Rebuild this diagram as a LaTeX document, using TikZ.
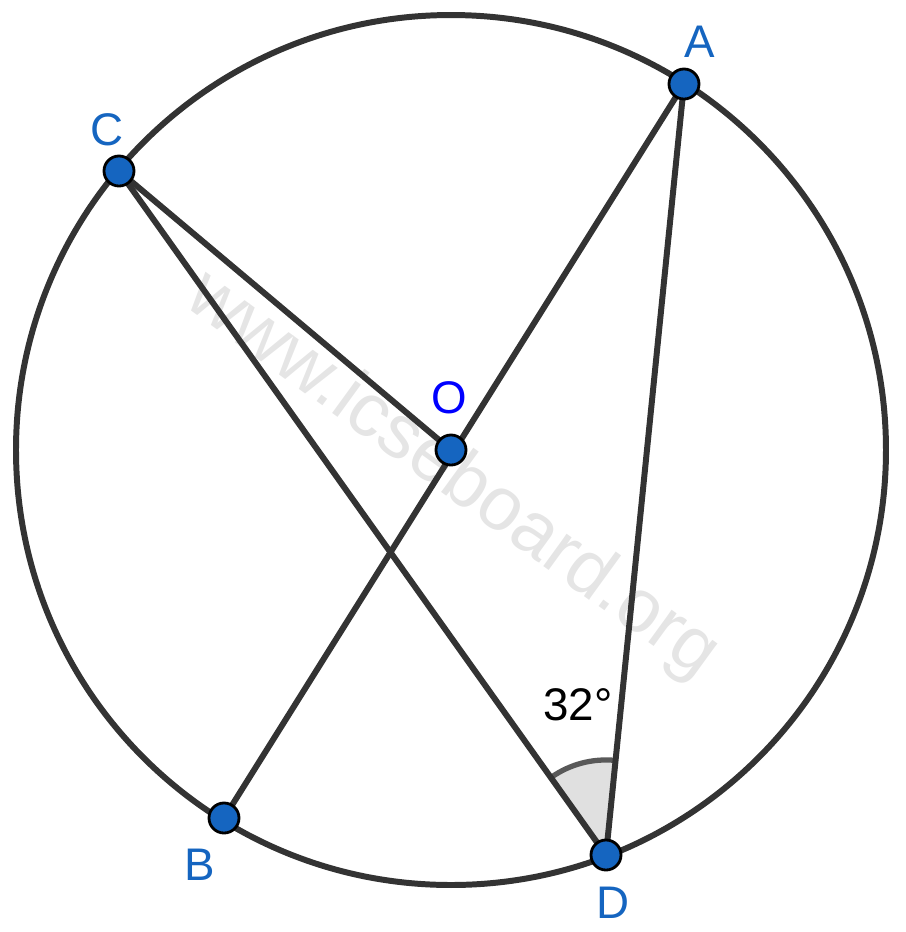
\documentclass[tikz,border=0pt]{standalone}
\usepackage{fontspec}
\setmainfont{Liberation Sans}
\usetikzlibrary{angles,calc}
\definecolor{ptblue}{HTML}{1565C0}
\definecolor{edgegray}{HTML}{333333}
\tikzset{
	seg/.style={draw=edgegray, line width=1.7pt},
	pt/.style={circle, fill=ptblue, draw=black, line width=0.8pt, inner sep=0pt, minimum size=0.3cm},
	lbl/.style={text=ptblue, font=\fontsize{13}{15}\selectfont}
}
\begin{document}
\begin{tikzpicture}[x=0.01cm,y=-0.01cm]
	\useasboundingbox (0,0) rectangle (906,932);
	\coordinate (O) at (451,450);
	\coordinate (A) at (684,84);
	\coordinate (C) at (119,171);
	\coordinate (B) at (224,818);
	\coordinate (D) at (606,855);
	% watermark
	\node[text=black!10, rotate=-36, font=\fontsize{21.5}{24}\selectfont] (wm) at (452,476) {www.icseboard.org};
	% angle at D
	\pic[fill=black!12, draw=black!65, line width=1.5pt, angle radius=0.95cm] {angle=A--D--C};
	\draw[seg] (O) circle (435);
	\draw[seg] (C) -- (O);
	\draw[seg] (C) -- (D);
	\draw[seg] (A) -- (B);
	\draw[seg] (A) -- (D);
	\foreach \p in {A,B,C,D,O} \node[pt] (n\p) at (\p) {};
	\node[lbl] (lA) at (700,42) {A};
	\node[lbl, text=blue] (lO) at (449,398) {O};
	\node[lbl] (lC) at (107,130) {C};
	\node[lbl] (lB) at (200,865) {B};
	\node[lbl] (lD) at (613,903) {D};
	\node[font=\fontsize{13}{15}\selectfont] (ang) at (578,705) {32°};
\end{tikzpicture}
\end{document}
